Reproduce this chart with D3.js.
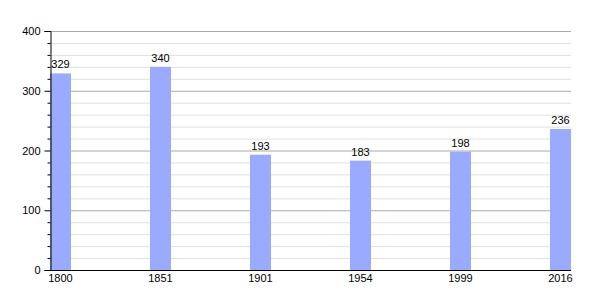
<!DOCTYPE html>
<html>
<head>
<meta charset="utf-8">
<script src="https://d3js.org/d3.v7.min.js"></script>
<style>
  body { margin: 0; background: #fff; }
  text { font-family: "Liberation Sans", Arial, sans-serif; font-size: 11px; fill: #000; }
</style>
</head>
<body>
<svg id="chart" width="600" height="300"></svg>
<script>
const years = ["1800", "1851", "1901", "1954", "1999", "2016"];
const population = [329, 340, 193, 183, 198, 236];
const yTicks = [0, 100, 200, 300, 400];

const svg = d3.select("#chart");
const plotLeft = 50, plotRight = 571, plotTop = 31, plotBottom = 270;
const barW = 21;

const x = d3.scalePoint().domain(years).range([plotLeft, plotLeft + 500]);
const y = d3.scaleLinear().domain([0, 400]).range([plotBottom, plotTop]);

// minor grid every 20
const minor = d3.range(20, 401, 20).filter(v => v % 100 !== 0);
svg.selectAll(".minor").data(minor).enter().append("line")
  .attr("x1", plotLeft).attr("x2", plotRight)
  .attr("y1", d => y(d) + 0.5).attr("y2", d => y(d) + 0.5)
  .attr("stroke", "#e0e0e0").attr("stroke-width", 1);

svg.selectAll(".major").data(yTicks.slice(1)).enter().append("line")
  .attr("x1", plotLeft).attr("x2", plotRight)
  .attr("y1", d => y(d) + 0.5).attr("y2", d => y(d) + 0.5)
  .attr("stroke", "#aaaaaa").attr("stroke-width", 1);

// bars
svg.selectAll(".bar").data(population).enter().append("rect")
  .attr("x", (d, i) => x(years[i]))
  .attr("width", barW)
  .attr("y", d => y(d))
  .attr("height", d => plotBottom - y(d))
  .attr("fill", "#99aaff");

svg.selectAll(".val").data(population).enter().append("text")
  .attr("x", (d, i) => x(years[i]) + barW / 2)
  .attr("y", d => y(d) - 5)
  .attr("text-anchor", "middle")
  .text(d => d);

// y axis
const yAxis = d3.axisLeft(y).tickValues(yTicks).tickSize(6).tickPadding(4);
const gy = svg.append("g").attr("transform", `translate(${plotLeft + 0.5},0)`).call(yAxis);
gy.select(".domain").attr("stroke", "#000");
gy.selectAll(".tick line").attr("stroke", "#000");
gy.selectAll("text").attr("font-size", 11).attr("font-family", "Liberation Sans, Arial, sans-serif");

const yMinor = d3.axisLeft(y).tickValues(minor).tickSize(3).tickFormat("");
svg.append("g").attr("transform", `translate(${plotLeft + 0.5},0)`).call(yMinor)
  .call(g => g.select(".domain").remove())
  .selectAll(".tick line").attr("stroke", "#000");

// x axis
svg.append("line")
  .attr("x1", plotLeft).attr("x2", plotRight)
  .attr("y1", plotBottom + 0.5).attr("y2", plotBottom + 0.5)
  .attr("stroke", "#000");

svg.selectAll(".year").data(years).enter().append("text")
  .attr("x", d => x(d) + barW / 2)
  .attr("y", plotBottom + 12)
  .attr("text-anchor", "middle")
  .text(d => d);
</script>
</body>
</html>
